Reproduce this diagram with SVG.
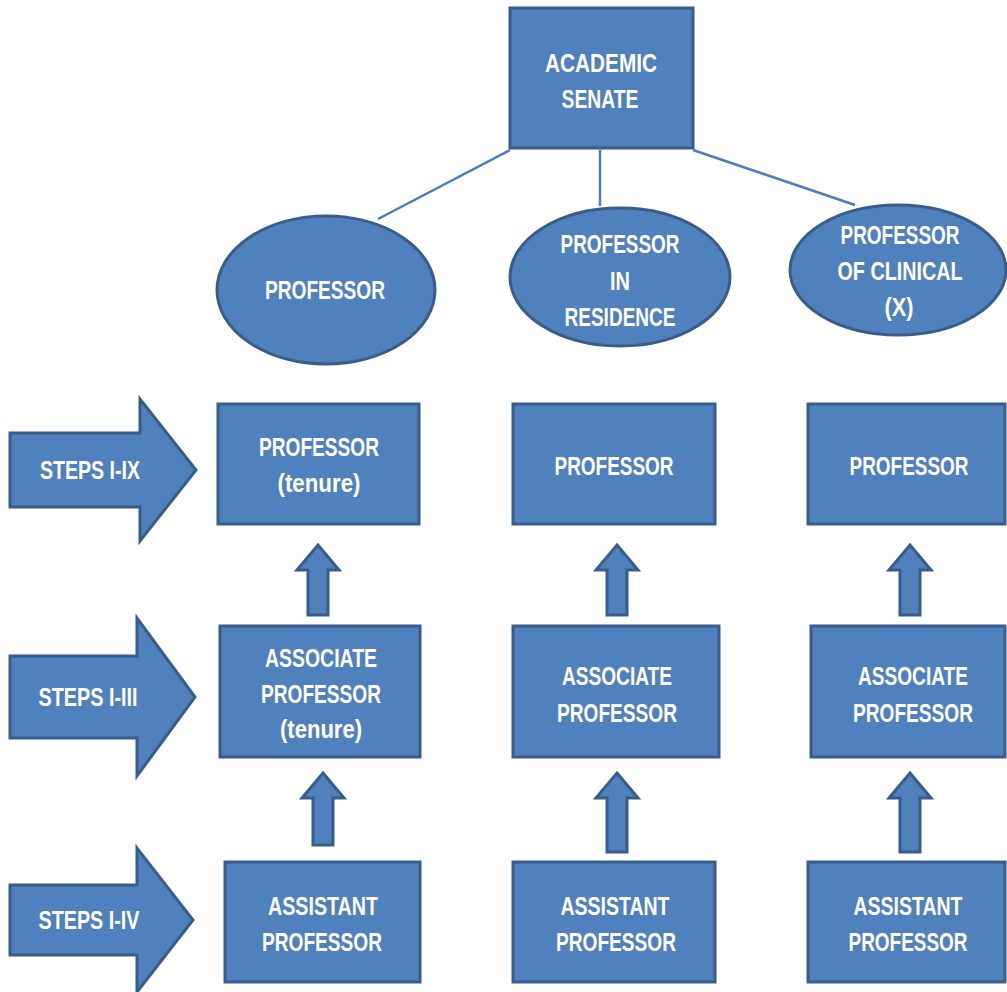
<svg xmlns="http://www.w3.org/2000/svg" width="1007" height="992" viewBox="0 0 1007 992">
<style>
.n{fill:#4F81BD;stroke:#385D8A;stroke-width:3}
.c{stroke:#4A7EBB;stroke-width:2.5;fill:none}
.t{font-family:"Liberation Sans",Arial,sans-serif;font-weight:bold;font-size:26px;fill:#FFFFFF;text-anchor:middle}
</style>
<rect width="1007" height="992" fill="#FFFFFF"/>
<g id="connectors">
<line class="c" x1="510" y1="150" x2="378" y2="219"/>
<line class="c" x1="600" y1="150" x2="600" y2="206"/>
<line class="c" x1="693" y1="150" x2="855" y2="205"/>
<path class="n" d="M318,545 L339,570 L328,570 L328,615 L308,615 L308,570 L297,570 Z"/>
<path class="n" d="M617,545 L638,570 L627,570 L627,615 L607,615 L607,570 L596,570 Z"/>
<path class="n" d="M910,545 L931,570 L920,570 L920,615 L900,615 L900,570 L889,570 Z"/>
<path class="n" d="M323,773 L344,798 L333,798 L333,845 L313,845 L313,798 L302,798 Z"/>
<path class="n" d="M617,773 L638,798 L627,798 L627,852 L607,852 L607,798 L596,798 Z"/>
<path class="n" d="M910,773 L931,798 L920,798 L920,852 L900,852 L900,798 L889,798 Z"/>
</g>
<g id="senate">
<rect class="n" x="510" y="8" width="183" height="140"/>
<text class="t" x="601" y="72" textLength="112" lengthAdjust="spacingAndGlyphs">ACADEMIC</text>
<text class="t" x="600" y="108" textLength="77" lengthAdjust="spacingAndGlyphs">SENATE</text>
</g>
<g id="e-professor">
<ellipse class="n" cx="326" cy="290" rx="109" ry="74"/>
<text class="t" x="325" y="299" textLength="120" lengthAdjust="spacingAndGlyphs">PROFESSOR</text>
</g>
<g id="e-residence">
<ellipse class="n" cx="620" cy="277" rx="110" ry="69"/>
<text class="t" x="620" y="253" textLength="119" lengthAdjust="spacingAndGlyphs">PROFESSOR</text>
<text class="t" x="620" y="290" textLength="20" lengthAdjust="spacingAndGlyphs">IN</text>
<text class="t" x="620" y="326" textLength="111" lengthAdjust="spacingAndGlyphs">RESIDENCE</text>
</g>
<g id="e-clinical">
<ellipse class="n" cx="898" cy="270" rx="108" ry="65"/>
<text class="t" x="900" y="244" textLength="119" lengthAdjust="spacingAndGlyphs">PROFESSOR</text>
<text class="t" x="900" y="280" textLength="125" lengthAdjust="spacingAndGlyphs">OF CLINICAL</text>
<text class="t" x="899" y="316" textLength="29" lengthAdjust="spacingAndGlyphs">(X)</text>
</g>
<g id="steps-ix">
<path class="n" d="M10,433 L140,433 L140,399 L196,470 L140,541 L140,507 L10,507 Z"/>
<text class="t" x="90" y="479" textLength="100" lengthAdjust="spacingAndGlyphs">STEPS I-IX</text>
</g>
<g id="steps-iii">
<path class="n" d="M10,656 L137,656 L137,618 L195,697 L137,776 L137,738 L10,738 Z"/>
<text class="t" x="88" y="706" textLength="99" lengthAdjust="spacingAndGlyphs">STEPS I-III</text>
</g>
<g id="steps-iv">
<path class="n" d="M10,885 L137,885 L137,848 L193,920 L137,992 L137,955 L10,955 Z"/>
<text class="t" x="89" y="929" textLength="101" lengthAdjust="spacingAndGlyphs">STEPS I-IV</text>
</g>
<g id="prof-tenure">
<rect class="n" x="218" y="404" width="201" height="120"/>
<text class="t" x="319" y="456" textLength="120" lengthAdjust="spacingAndGlyphs">PROFESSOR</text>
<text class="t" x="319" y="492" textLength="83" lengthAdjust="spacingAndGlyphs">(tenure)</text>
</g>
<g id="prof-res">
<rect class="n" x="513" y="404" width="202" height="120"/>
<text class="t" x="614" y="475" textLength="119" lengthAdjust="spacingAndGlyphs">PROFESSOR</text>
</g>
<g id="prof-clin">
<rect class="n" x="808" y="404" width="197" height="120"/>
<text class="t" x="909" y="475" textLength="119" lengthAdjust="spacingAndGlyphs">PROFESSOR</text>
</g>
<g id="assoc-tenure">
<rect class="n" x="220" y="626" width="200" height="131"/>
<text class="t" x="321" y="667" textLength="112" lengthAdjust="spacingAndGlyphs">ASSOCIATE</text>
<text class="t" x="321" y="703" textLength="120" lengthAdjust="spacingAndGlyphs">PROFESSOR</text>
<text class="t" x="321" y="738" textLength="82" lengthAdjust="spacingAndGlyphs">(tenure)</text>
</g>
<g id="assoc-res">
<rect class="n" x="513" y="626" width="206" height="131"/>
<text class="t" x="617" y="685" textLength="110" lengthAdjust="spacingAndGlyphs">ASSOCIATE</text>
<text class="t" x="617" y="722" textLength="120" lengthAdjust="spacingAndGlyphs">PROFESSOR</text>
</g>
<g id="assoc-clin">
<rect class="n" x="811" y="626" width="194" height="131"/>
<text class="t" x="913" y="685" textLength="110" lengthAdjust="spacingAndGlyphs">ASSOCIATE</text>
<text class="t" x="913" y="722" textLength="120" lengthAdjust="spacingAndGlyphs">PROFESSOR</text>
</g>
<g id="asst-tenure">
<rect class="n" x="225" y="862" width="195" height="120"/>
<text class="t" x="323" y="915" textLength="110" lengthAdjust="spacingAndGlyphs">ASSISTANT</text>
<text class="t" x="322" y="951" textLength="120" lengthAdjust="spacingAndGlyphs">PROFESSOR</text>
</g>
<g id="asst-res">
<rect class="n" x="513" y="862" width="202" height="120"/>
<text class="t" x="615" y="915" textLength="109" lengthAdjust="spacingAndGlyphs">ASSISTANT</text>
<text class="t" x="616" y="951" textLength="120" lengthAdjust="spacingAndGlyphs">PROFESSOR</text>
</g>
<g id="asst-clin">
<rect class="n" x="808" y="862" width="197" height="120"/>
<text class="t" x="908" y="915" textLength="109" lengthAdjust="spacingAndGlyphs">ASSISTANT</text>
<text class="t" x="908" y="951" textLength="119" lengthAdjust="spacingAndGlyphs">PROFESSOR</text>
</g>
</svg>
